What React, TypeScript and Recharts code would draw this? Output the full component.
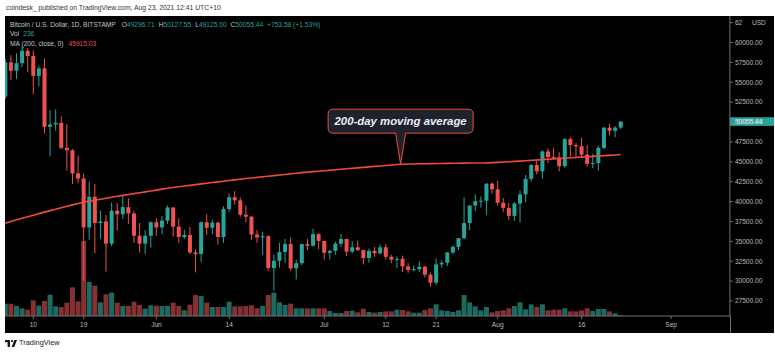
import React from 'react';
import { ComposedChart, Bar, Line, XAxis, YAxis, Cell, ReferenceLine, ReferenceDot } from 'recharts';

const TEAL = '#26a69a';
const RED = '#ef5350';
const VOL_UP = '#1c6b62';
const VOL_DOWN = '#853131';
const MA_COLOR = '#f04a3f';
const AXIS = '#6f727c';
const AXIS_TEXT = '#b8bbc4';
const FONT = "'Liberation Sans', Arial, sans-serif";

// daily candles, Bitstamp BTC/USD, 2021-05-05 .. 2021-08-23
const opens = [
  53200, 57500, 56450, 57400, 58950, 58300, 55800, 56750, 49400, 49700, 49900, 46750, 46450, 43550, 42900, 36750,
  40600, 37300, 37500, 34700, 38850, 38400, 39300, 38500, 35700, 34700, 35700, 37400, 36750, 37600, 39250, 36850,
  35550, 35800, 33600, 33400, 37400, 36700, 37350, 35550, 39050, 40550, 40150, 38350, 38100, 35850, 35500, 35650,
  31650, 32550, 33650, 34650, 31600, 32250, 34650, 34450, 35900, 35050, 33550, 33800, 34700, 35300, 33700, 34250,
  33900, 32900, 33800, 33500, 34250, 33050, 32700, 32800, 31850, 31400, 31500, 31800, 30800, 29800, 32100, 32300,
  33600, 34300, 35400, 37300, 39500, 40050, 40100, 42250, 41550, 39850, 39200, 38200, 39750, 40900, 42850, 44600,
  43800, 46300, 45600, 45550, 44450, 47850, 47100, 46950, 45900, 44750, 44850, 46750, 49300, 48900, 49296.71,
];
const highs = [
  57900, 58400, 58650, 59500, 59300, 59000, 57050, 58000, 51450, 51600, 50700, 49700, 46600, 45800, 43500, 42500,
  42200, 38850, 38300, 39900, 39800, 40800, 40400, 38800, 37300, 36400, 37500, 37900, 38200, 39500, 39300, 37900,
  36450, 36800, 34000, 37500, 38400, 37700, 37450, 39400, 41000, 41300, 40500, 39500, 38200, 36400, 36200, 35750,
  33300, 34800, 35300, 35500, 32700, 34700, 35300, 36600, 36050, 35050, 33950, 34950, 35950, 35300, 35050, 35100,
  33950, 34100, 34300, 34600, 34650, 33300, 33100, 33200, 32250, 31950, 32450, 31900, 31050, 32850, 32600, 33650,
  34500, 35400, 40550, 39500, 40900, 40650, 42300, 42400, 42600, 40450, 39800, 39950, 41400, 43350, 44700, 45300,
  46450, 46700, 46750, 46200, 47950, 48100, 47350, 48000, 47100, 46000, 47000, 49350, 49800, 49500, 50127.55,
];
const lows = [
  52900, 55300, 55400, 56900, 56300, 53500, 54500, 48600, 45700, 48900, 46600, 43900, 42200, 42300, 30000, 35200,
  33500, 35300, 31200, 34400, 36400, 37800, 37200, 34800, 33600, 33400, 34200, 35700, 35900, 37200, 35600, 34800,
  35300, 33400, 31100, 32400, 35800, 35900, 34600, 34800, 38700, 39600, 38100, 37400, 35200, 34800, 33300, 31300,
  28800, 31700, 32300, 31300, 30200, 32000, 33900, 34300, 34000, 32700, 32700, 33300, 34300, 33150, 33500, 33800,
  32100, 32300, 33050, 33350, 32700, 32250, 31600, 31150, 31050, 31200, 31150, 30450, 29300, 29500, 31700, 31900,
  33400, 33900, 35250, 36400, 38800, 39250, 38300, 41000, 39450, 38700, 37650, 37550, 37350, 39900, 42500, 43400,
  42850, 44850, 45350, 43800, 44200, 45700, 45550, 45500, 44400, 44200, 43900, 46600, 48300, 48100, 49125,
];
const closes = [
  57500, 56450, 57400, 58950, 58300, 55800, 56750, 49400, 49700, 49900, 46750, 46450, 43550, 42900, 36750, 40600,
  37300, 37500, 34700, 38850, 38400, 39300, 38500, 35700, 34700, 35700, 37400, 36750, 37600, 39250, 36850, 35550,
  35800, 33600, 33400, 37400, 36700, 37350, 35550, 39050, 40550, 40150, 38350, 38100, 35850, 35500, 35650, 31650,
  32550, 33650, 34650, 31600, 32250, 34650, 34450, 35900, 35050, 33550, 33800, 34700, 35300, 33700, 34250, 33900,
  32900, 33800, 33500, 34250, 33050, 32700, 32800, 31850, 31400, 31500, 31800, 30800, 29800, 32100, 32300, 33600,
  34300, 35400, 37300, 39500, 40050, 40100, 42250, 41550, 39850, 39200, 38200, 39750, 40900, 42850, 44600, 43800,
  46300, 45600, 45550, 44450, 47850, 47100, 46950, 45900, 44750, 44850, 46750, 49300, 48900, 49296.71, 50055.44,
];
const volumes = [
  3700, 3700, 3000, 2300, 1900, 4700, 3100, 4500, 6400, 2900, 2700, 4000, 8600, 4400, 22500, 10200,
  9100, 4100, 6500, 7000, 4000, 3000, 3000, 4300, 3300, 2200, 3200, 3100, 3000, 3000, 4000, 3000,
  1700, 3400, 6300, 6000, 4000, 2700, 2700, 2700, 4300, 2900, 2900, 3000, 3200, 2300, 3000, 6300,
  7000, 4100, 3300, 3700, 2300, 2300, 2300, 2300, 2300, 2300, 1500, 900, 900, 1500, 1600, 1100,
  2200, 1200, 1000, 1200, 1400, 1400, 1900, 1800, 1400, 1000, 1000, 1800, 2300, 3500, 1700, 1500,
  1200, 1700, 6300, 4100, 2900, 1700, 2700, 1100, 1500, 1700, 2300, 3000, 4100, 2000, 3500, 2700,
  3500, 1700, 1900, 1900, 2300, 1400, 1400, 1700, 2300, 1500, 2100, 2100, 1400, 800, 236,
];
// MA (200, close)
const ma200 = [
  37290, 37500, 37700, 37900, 38100, 38290, 38480, 38670, 38860, 39040, 39220, 39400, 39580, 39750, 39920, 40050,
  40180, 40300, 40420, 40540, 40660, 40780, 40890, 41000, 41110, 41220, 41330, 41440, 41560, 41680, 41770, 41860,
  41950, 42040, 42130, 42220, 42300, 42390, 42470, 42560, 42640, 42730, 42810, 42890, 42960, 43040, 43110, 43190,
  43260, 43340, 43410, 43490, 43560, 43640, 43700, 43760, 43820, 43880, 43940, 44000, 44060, 44120, 44180, 44240,
  44300, 44360, 44420, 44480, 44540, 44590, 44650, 44700, 44715, 44730, 44745, 44760, 44770, 44780, 44790, 44800,
  44810, 44820, 44830, 44840, 44845, 44850, 44860, 44895, 44930, 44970, 45010, 45050, 45090, 45140, 45180, 45230,
  45270, 45320, 45360, 45410, 45450, 45500, 45540, 45590, 45630, 45680, 45720, 45770, 45810, 45860, 45915.03,
];

const priceTicks = [27500, 30000, 32500, 35000, 37500, 40000, 42500, 45000, 47500, 50000, 52500, 55000, 57500, 60000, 62500];
const timeTickDates = ['2021-05-10', '2021-05-19', '2021-06-01', '2021-06-14', '2021-07-01', '2021-07-12', '2021-07-21', '2021-08-01', '2021-08-16', '2021-09-01'];
const timeTickLabels = ['10', '19', 'Jun', '14', 'Jul', '12', '21', 'Aug', '16', 'Sep'];

// one slot per calendar day, 2021-05-04 .. 2021-09-11 (empty slots keep the time scale)
const rows = [];
for (let i = 0; i < 131; i++) {
  const date = new Date(Date.UTC(2021, 4, 4) + i * 86400000).toISOString().slice(0, 10);
  const d = i - 1;
  if (d >= 0 && d < opens.length) {
    rows.push({
      date,
      open: opens[d], high: highs[d], low: lows[d], close: closes[d],
      range: [lows[d], highs[d]],
      vol: volumes[d],
      ma: ma200[d],
    });
  } else {
    rows.push({ date });
  }
}

const last = opens.length - 1;

function Candle(props) {
  const { x, y, width, height, payload } = props;
  if (!payload || payload.open == null) return null;
  const { open, high, low, close } = payload;
  const color = close >= open ? TEAL : RED;
  const yTop = Math.min(y, y + height);
  const yBot = Math.max(y, y + height);
  const span = high - low || 1;
  const yOf = (v) => yTop + ((high - v) / span) * (yBot - yTop);
  const cx = x + width / 2;
  const b1 = yOf(Math.max(open, close));
  const b2 = yOf(Math.min(open, close));
  return (
    <g>
      <line x1={cx} x2={cx} y1={yTop} y2={yBot} stroke={color} strokeWidth={1} />
      <rect x={cx - 2} y={b1} width={4} height={Math.max(b2 - b1, 1)} fill={color} />
    </g>
  );
}

function PriceTick({ x, y, payload }) {
  const v = payload.value;
  if (v === 62500) {
    return (
      <g fontFamily={FONT} fontSize={6.6} fill={AXIS_TEXT}>
        <text x={x} y={y} dy={2.3}>62</text>
        <text x={x + 17} y={y} dy={2.3}>USD</text>
      </g>
    );
  }
  return (
    <text x={x} y={y} dy={2.3} fontFamily={FONT} fontSize={6.6} fill={AXIS_TEXT}>
      {v.toFixed(2)}
    </text>
  );
}

function TimeTick({ x, y, payload }) {
  const i = timeTickDates.indexOf(payload.value);
  return (
    <text x={x} y={y + 6.3} textAnchor="middle" fontFamily={FONT} fontSize={6.6} fill={AXIS_TEXT}>
      {timeTickLabels[i]}
    </text>
  );
}

function PriceTag({ x1, x2, y1 }) {
  const xr = Math.max(x1, x2);
  return (
    <g>
      <rect x={xr} y={y1 - 4.3} width={46} height={8.6} fill={TEAL} />
      <text x={xr + 5} y={y1} dy={2.3} fontFamily={FONT} fontSize={6.6} fill="#ffffff">
        {closes[last].toFixed(2)}
      </text>
    </g>
  );
}

function Callout({ cx, cy }) {
  const tx = cx - 2;
  const ty = cy;
  const left = tx - 72.5;
  const right = tx + 72.5;
  const top = ty - 55;
  const bottom = ty - 31;
  const r = 5;
  const d = [
    `M${left + r},${top}`, `H${right - r}`, `Q${right},${top} ${right},${top + r}`,
    `V${bottom - r}`, `Q${right},${bottom} ${right - r},${bottom}`,
    `H${tx + 5}`, `L${tx},${ty}`, `L${tx - 5},${bottom}`,
    `H${left + r}`, `Q${left},${bottom} ${left},${bottom - r}`,
    `V${top + r}`, `Q${left},${top} ${left + r},${top}`, 'Z',
  ].join(' ');
  return (
    <g>
      <path d={d} fill="#1e222d" stroke={MA_COLOR} strokeWidth={1} />
      <text x={tx} y={top + 12} dy={4} textAnchor="middle" fontFamily={FONT} fontSize={11.4}
        fontWeight="bold" fontStyle="italic" fill="#eceff4">
        200-day moving average
      </text>
    </g>
  );
}

const legendLine = { position: 'absolute', left: 5, whiteSpace: 'nowrap', fontSize: 6.65, lineHeight: '9.7px', color: '#c3c6ce' } as const;

export default function App() {
  return (
    <div style={{ position: 'absolute', left: 0, top: 0, width: 775, height: 353, background: '#ffffff', fontFamily: FONT, overflow: 'hidden' }}>
      <div style={{ position: 'absolute', left: 6, top: 3, fontSize: 6.8, lineHeight: '9px', color: '#2f3240', whiteSpace: 'nowrap' }}>
        coindesk_ published on TradingView.com, Aug 23, 2021 12:41 UTC+10
      </div>

      <div style={{ position: 'absolute', left: 5, top: 16, width: 769, height: 317, background: '#000000', overflow: 'hidden' }}>
        <div style={{ position: 'absolute', left: -7.6, top: 0 }}>
          <ComposedChart width={777.6} height={317} data={rows} margin={{ top: 0, right: 0, bottom: 0, left: 0 }} barCategoryGap="4%">
            <XAxis xAxisId="main" dataKey="date" type="category" ticks={timeTickDates} interval={0}
              height={17} tickSize={3} tickMargin={2} stroke={AXIS} tick={<TimeTick />} />
            <XAxis xAxisId="vol" dataKey="date" type="category" hide />
            <YAxis yAxisId="price" orientation="right" type="number" domain={[25610, 63332]} allowDataOverflow
              ticks={priceTicks} interval={0} width={44.7} tickSize={3} tickMargin={2} stroke={AXIS} tick={<PriceTick />} />
            <YAxis yAxisId="vol" type="number" domain={[0, 90000]} allowDataOverflow hide />

            <Bar xAxisId="vol" yAxisId="vol" dataKey="vol" isAnimationActive={false}>
              {rows.map((r, i) => (
                <Cell key={i} fill={r.close >= r.open ? VOL_UP : VOL_DOWN} />
              ))}
            </Bar>
            <Line xAxisId="main" yAxisId="price" dataKey="ma" stroke={MA_COLOR} strokeWidth={1.6}
              dot={false} activeDot={false} isAnimationActive={false} />
            <Bar xAxisId="main" yAxisId="price" dataKey="range" shape={<Candle />} isAnimationActive={false} />

            <ReferenceLine xAxisId="main" yAxisId="price" y={closes[last]} stroke="none" shape={(p) => <PriceTag {...p} />} />
            <ReferenceDot xAxisId="main" yAxisId="price" x="2021-07-15" y={ma200[71]} r={0}
              shape={(p) => <Callout {...p} />} />
          </ComposedChart>
        </div>

        <div style={{ position: 'absolute', left: 725, top: 300, width: 1, height: 17, background: AXIS }} />

        <div style={{ ...legendLine, top: 3.5 }}>
          <span>Bitcoin / U.S. Dollar, 1D, BITSTAMP</span>
          <span style={{ marginLeft: 6 }}>O</span><span style={{ color: TEAL }}>{opens[last].toFixed(2)}</span>
          <span style={{ marginLeft: 4 }}>H</span><span style={{ color: TEAL }}>{highs[last].toFixed(2)}</span>
          <span style={{ marginLeft: 4 }}>L</span><span style={{ color: TEAL }}>{lows[last].toFixed(2)}</span>
          <span style={{ marginLeft: 4 }}>C</span><span style={{ color: TEAL }}>{closes[last].toFixed(2)}</span>
          <span style={{ marginLeft: 4, color: TEAL }}>+753.58 (+1.53%)</span>
        </div>
        <div style={{ ...legendLine, top: 13.2 }}>
          <span>Vol</span><span style={{ marginLeft: 4, color: TEAL }}>{volumes[last]}</span>
        </div>
        <div style={{ ...legendLine, top: 22.9 }}>
          <span>MA (200, close, 0)</span><span style={{ marginLeft: 5, color: RED }}>{ma200[last].toFixed(2)}</span>
        </div>
      </div>

      <div style={{ position: 'absolute', left: 5, top: 338, display: 'flex', alignItems: 'center' }}>
        <svg width={12} height={9} viewBox="0 0 12 9">
          <rect x={0} y={1} width={5} height={2.2} fill="#131722" />
          <rect x={2.6} y={1} width={2.4} height={7} fill="#131722" />
          <circle cx={7} cy={2.1} r={1.1} fill="#131722" />
          <path d="M9.4 1 H12 L9.2 8 H6.6 Z" fill="#131722" />
        </svg>
        <span style={{ marginLeft: 2, fontSize: 7.4, color: '#131722', lineHeight: '10px' }}>TradingView</span>
      </div>
    </div>
  );
}
